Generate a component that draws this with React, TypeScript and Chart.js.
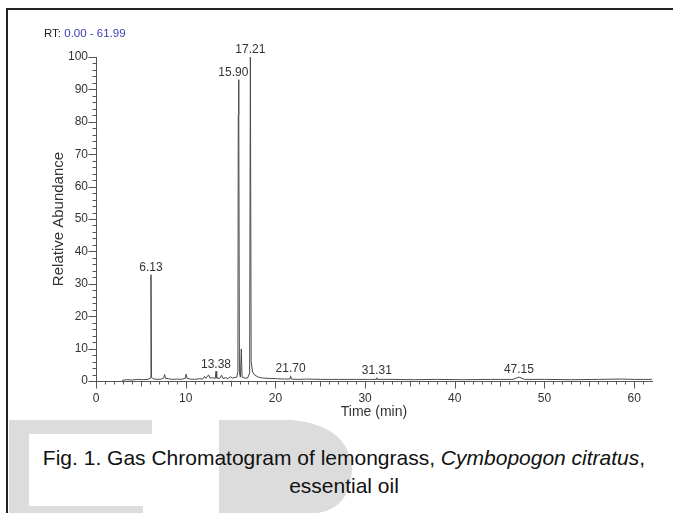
import React, { useEffect, useRef } from 'react';
import { Chart, registerables } from 'chart.js';
Chart.register(...registerables);

const FONT = '"Liberation Sans", Arial, sans-serif';

// retention time (min)
const times = [
  2.9, 3.4, 4.0, 4.6, 5.2, 5.8, 6.06, 6.13, 6.19, 6.35, 6.8, 7.3, 7.55, 7.65, 7.75, 8.1, 8.5, 9.0, 9.5,
  9.95, 10.05, 10.15, 10.5, 11.0, 11.5, 11.9, 12.1, 12.25, 12.55, 12.7, 13.0, 13.3, 13.38, 13.46, 13.8,
  14.0, 14.15, 14.5, 14.7, 15.0, 15.2, 15.5, 15.7, 15.82, 15.86, 15.9, 15.94, 15.99, 16.1, 16.2, 16.29,
  16.6, 16.9, 17.13, 17.21, 17.3, 17.45, 17.7, 18.1, 18.6, 19.3, 20.2, 21.0, 21.62, 21.7, 21.78, 22.5,
  23.5, 25.0, 27.0, 29.0, 30.5, 31.25, 31.31, 31.38, 33.0, 35.5, 38.0, 41.0, 44.0, 46.5, 47.15, 47.8,
  50.0, 53.0, 56.0, 58.5, 60.0, 61.99,
];
// relative abundance (%)
const abundance = [
  0.2, 0.4, 0.3, 0.5, 0.4, 0.5, 0.9, 32.8, 1.2, 0.7, 0.5, 0.6, 0.9, 2.0, 0.8, 0.7, 0.5, 0.6, 0.5,
  0.8, 2.1, 0.8, 0.6, 0.5, 0.7, 0.6, 1.4, 0.8, 1.9, 0.9, 1.0, 0.8, 3.0, 0.9, 0.8,
  1.8, 0.8, 1.0, 0.7, 1.3, 0.9, 1.1, 1.2, 3.0, 82, 93, 82, 2.5, 1.2, 9.9, 1.2,
  0.9, 0.9, 2.5, 100, 6.0, 2.8, 1.8, 1.2, 0.9, 0.8, 0.7, 0.6, 0.6, 1.6, 0.6, 0.5,
  0.6, 0.5, 0.5, 0.5, 0.5, 0.5, 1.0, 0.5, 0.5, 0.4, 0.5, 0.4, 0.5, 0.5, 1.2, 0.5,
  0.5, 0.4, 0.5, 0.6, 0.5, 0.5,
];

const peakTimes = [6.13, 13.38, 15.9, 17.21, 21.7, 31.31, 47.15];
const peakLabels = ['6.13', '13.38', '15.90', '17.21', '21.70', '31.31', '47.15'];

const yMajorTicks = [0, 10, 20, 30, 40, 50, 60, 70, 80, 90, 100];
const xMajorTicks = [0, 10, 20, 30, 40, 50, 60];
const xMidTicks = [5, 15, 25, 35, 45, 55];
const yMinorStep = 2;
const xMinorStep = 1;

const xTitle = 'Time (min)';
const yTitle = 'Relative Abundance';
const rtPrefix = 'RT:';
const rtRange = '0.00 - 61.99';
const captionMain = 'Fig. 1. Gas Chromatogram of lemongrass, ';
const captionItalic = 'Cymbopogon citratus';
const captionEnd = 'essential oil';

const nearestIndex = (t: number) => {
  let idx = 0;
  let best = Infinity;
  times.forEach((tt, j) => {
    const d = Math.abs(tt - t);
    if (d < best) { best = d; idx = j; }
  });
  return idx;
};

const peakLabelPlugin = {
  id: 'peakLabels',
  afterDatasetsDraw(chart: any) {
    const { ctx, scales } = chart;
    const xs = scales.x;
    const ys = scales.y;
    ctx.save();
    ctx.strokeStyle = '#555';
    ctx.lineWidth = 1;
    const axX = Math.round(xs.left) + 0.5;
    const axY = Math.round(ys.bottom) + 0.5;
    const hTick = (v: number, len: number) => {
      const py = Math.round(ys.getPixelForValue(v)) + 0.5;
      ctx.beginPath();
      ctx.moveTo(axX - len, py);
      ctx.lineTo(axX, py);
      ctx.stroke();
    };
    const vTick = (v: number, len: number) => {
      const px = Math.round(xs.getPixelForValue(v)) + 0.5;
      ctx.beginPath();
      ctx.moveTo(px, axY);
      ctx.lineTo(px, axY + len);
      ctx.stroke();
    };
    for (let v = ys.min; v <= ys.max + 1e-9; v += yMinorStep) hTick(v, 4);
    yMajorTicks.forEach((v) => hTick(v, 8));
    for (let v = xs.min; v <= xs.max + 1e-9; v += xMinorStep) vTick(v, 3);
    xMidTicks.forEach((v) => vTick(v, 5));
    xMajorTicks.forEach((v) => vTick(v, 7));
    // peak labels
    ctx.fillStyle = '#333';
    ctx.font = `12px ${FONT}`;
    ctx.textAlign = 'center';
    ctx.textBaseline = 'bottom';
    peakTimes.forEach((t, i) => {
      const v = abundance[nearestIndex(t)];
      let px = xs.getPixelForValue(t);
      const py = ys.getPixelForValue(v);
      const half = ctx.measureText(peakLabels[i]).width / 2;
      // keep label clear of a taller neighbouring peak line on the right
      if (i + 1 < peakTimes.length) {
        const nt = peakTimes[i + 1];
        const nv = abundance[nearestIndex(nt)];
        const npx = xs.getPixelForValue(nt);
        if (nv > v && px + half > npx - 2) px = npx - 2 - half;
      }
      ctx.fillText(peakLabels[i], px, py - 1);
    });
    ctx.restore();
  },
};

export default function App() {
  const ref = useRef<HTMLCanvasElement | null>(null);
  useEffect(() => {
    if (!ref.current) return;
    const chart = new Chart(ref.current, {
      type: 'line',
      data: {
        datasets: [
          {
            data: times.map((t, i) => ({ x: t, y: abundance[i] })),
            borderColor: '#4a4a4a',
            borderWidth: 1,
            pointRadius: 0,
            tension: 0,
            fill: false,
            clip: false as any,
          },
        ],
      },
      options: {
        responsive: false,
        animation: false,
        layout: { padding: { left: 46, top: 57, right: 21, bottom: 5 } },
        plugins: { legend: { display: false }, tooltip: { enabled: false } },
        scales: {
          x: {
            type: 'linear',
            min: 0,
            max: 61.99,
            afterFit(scale: any) { scale.height = 44; },
            afterBuildTicks(scale: any) { scale.ticks = xMajorTicks.map((v) => ({ value: v })); },
            border: { display: true, color: '#555', width: 1 },
            grid: { display: false, drawOnChartArea: false, drawTicks: false },
            ticks: {
              autoSkip: false,
              maxRotation: 0,
              padding: 10,
              color: '#333',
              font: { family: FONT, size: 12 },
              callback: (v: any) => String(v),
            },
            title: { display: true, text: xTitle, color: '#333', font: { family: FONT, size: 14 }, padding: { top: 0, bottom: 4 } },
          },
          y: {
            type: 'linear',
            min: 0,
            max: 100,
            afterFit(scale: any) { scale.width = 50; },
            afterBuildTicks(scale: any) { scale.ticks = yMajorTicks.map((v) => ({ value: v })); },
            border: { display: true, color: '#555', width: 1 },
            grid: { display: false, drawOnChartArea: false, drawTicks: false },
            ticks: {
              autoSkip: false,
              padding: 8,
              color: '#333',
              font: { family: FONT, size: 12 },
              callback: (v: any) => String(v),
            },
            title: { display: true, text: yTitle, color: '#333', font: { family: FONT, size: 15 }, padding: { top: 4, bottom: 0 } },
          },
        },
      },
      plugins: [peakLabelPlugin],
    } as any);
    return () => chart.destroy();
  }, []);

  return (
    <div style={{ position: 'absolute', left: 0, top: 0, width: 673, height: 513, background: '#fff', overflow: 'hidden', fontFamily: FONT }}>
      <svg width={673} height={513} style={{ position: 'absolute', left: 0, top: 0 }}>
        <path d="M9,420 L152,420 L152,434 L29,434 L29,506 L143,506 L143,513 L9,513 Z" fill="#dcdcdc" />
        <path d="M219,420 L292,420 Q350,426 352,470 Q350,508 318,513 L219,513 Z" fill="#dcdcdc" />
      </svg>
      <div style={{ position: 'absolute', left: 6, top: 8, width: 667, height: 2, background: '#222' }} />
      <div style={{ position: 'absolute', left: 6, top: 8, width: 2, height: 505, background: '#222' }} />
      <canvas ref={ref} width={673} height={430} style={{ position: 'absolute', left: 0, top: 0, width: 673, height: 430 }} />
      <div style={{ position: 'absolute', left: 44, top: 26, fontSize: 11.5, color: '#222', whiteSpace: 'nowrap', lineHeight: '14px' }}>
        {rtPrefix} <span style={{ color: '#3b3bb0' }}>{rtRange}</span>
      </div>
      <div style={{ position: 'absolute', left: 14, top: 444, width: 660, textAlign: 'center', fontSize: 21, lineHeight: '28px', color: '#111' }}>
        {captionMain}
        <i>{captionItalic}</i>,
        <br />
        {captionEnd}
      </div>
    </div>
  );
}
